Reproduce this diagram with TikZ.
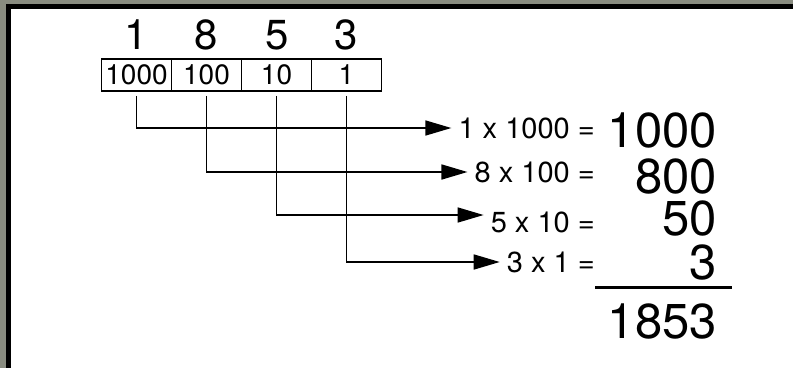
\documentclass[tikz,border=0pt]{standalone}
\usepackage{fontspec}
\setmainfont{TeX Gyre Heros}
\usepackage{tikz}
\usetikzlibrary{arrows.meta}
\definecolor{framegray}{RGB}{137,140,128}

\begin{document}
\begin{tikzpicture}[x=1pt,y=-1pt,
        cell/.style={draw, line width=1.5pt, minimum width=70pt, minimum height=32pt, inner sep=0pt, font=\fontsize{28}{28}\selectfont},
        digit/.style={inner sep=0pt, font=\fontsize{42}{42}\selectfont},
        term/.style={anchor=east, inner sep=0pt, font=\fontsize{29}{29}\selectfont},
        value/.style={anchor=east, inner sep=0pt, font=\fontsize{49}{49}\selectfont},
        link/.style={line width=1.6pt, -{Triangle[length=26pt,width=15pt]}, shorten <=4pt, shorten >=7pt}]
        \useasboundingbox (0,0) rectangle (793,368);
        \fill[framegray] (0,0) rectangle (793,368);
        \fill[black] (6,4) rectangle (793,368);
        \fill[white] (11,9) rectangle (793,368);
        % place values
        \node[cell] (c1) at (136.5,75) {1000};
        \node[cell] (c2) at (206.5,75) {100};
        \node[cell] (c3) at (276.5,75) {10};
        \node[cell] (c4) at (346.5,75) {1};
        \node[digit] (d1) at (136,35) {1};
        \node[digit] (d2) at (206,35) {8};
        \node[digit] (d3) at (277,35) {5};
        \node[digit] (d4) at (346,35) {3};
        % products
        \node[term] (t1) at (595,128) {1 x 1000 =};
        \node[term] (t2) at (595,172) {8 x 100 =};
        \node[term] (t3) at (595,222) {5 x 10 =};
        \node[term] (t4) at (595,262) {3 x 1 =};
        \node[value] (v1) at (717,130) {1000};
        \node[value] (v2) at (717,176) {800};
        \node[value] (v3) at (717,218) {50};
        \node[value] (v4) at (717,262) {3};
        \node[value] (sum) at (717,321) {1853};
        \draw[line width=3pt] (595,287) -- (732,287);
        % arrows
        \draw[link] (c1.south) |- (t1.west);
        \draw[link] (c2.south) |- (t2.west);
        \draw[link] (c3.south) |- ([yshift=7pt]t3.west);
        \draw[link] (c4.south) |- (t4.west);
    \end{tikzpicture}
\end{document}
